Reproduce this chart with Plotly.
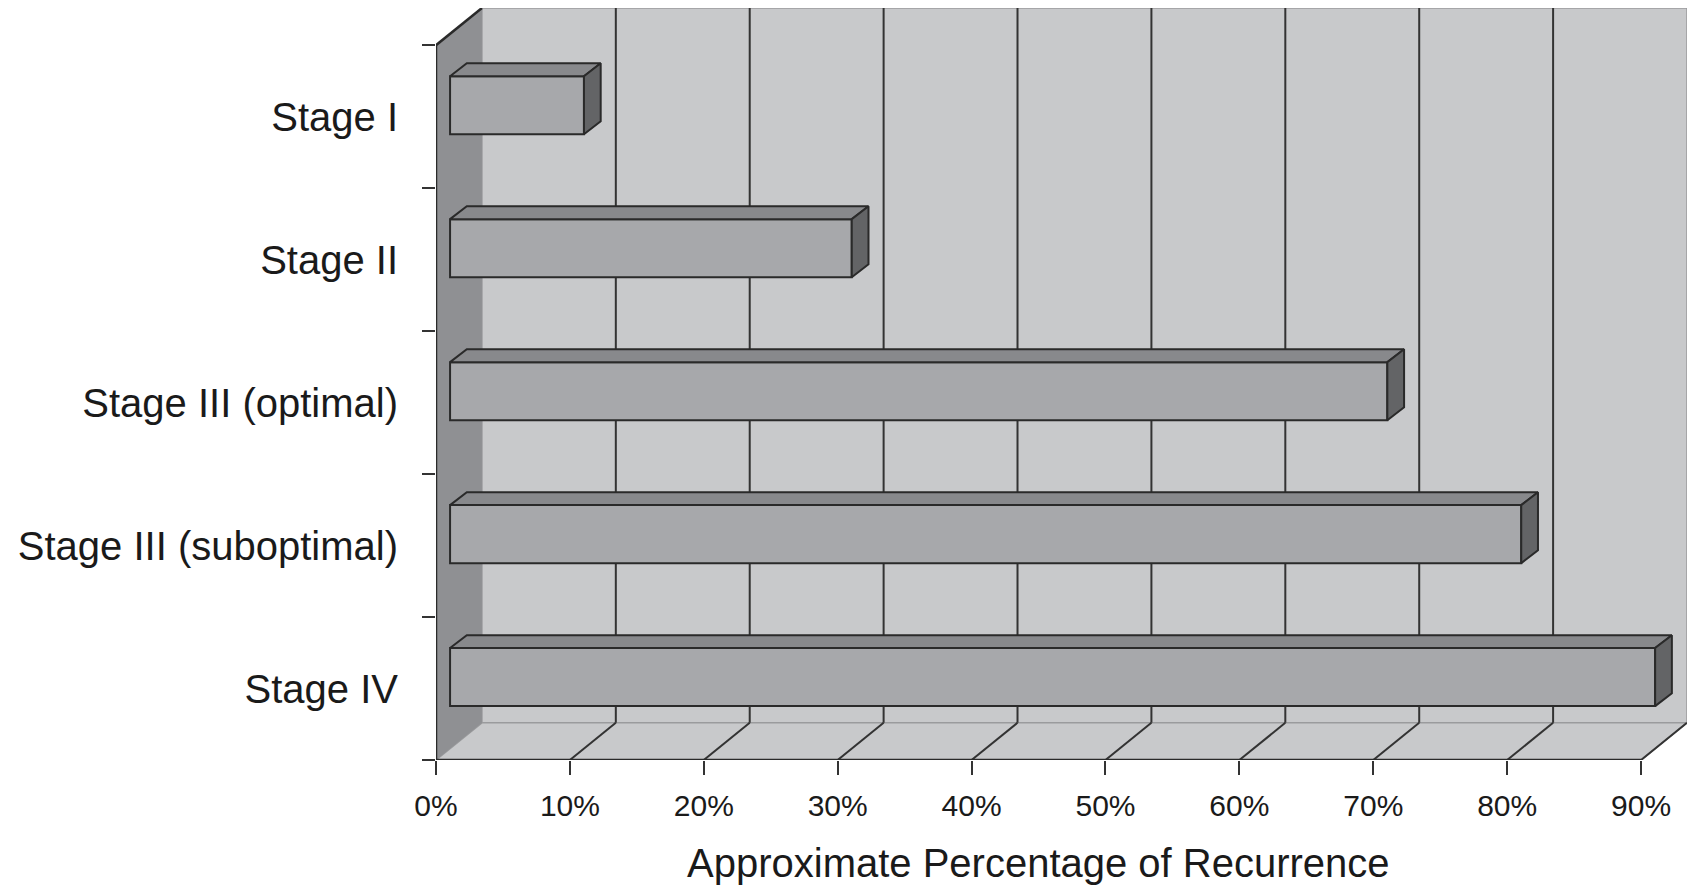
import plotly.graph_objects as go

# ---- data -------------------------------------------------------------
stages = ["Stage I", "Stage II", "Stage III (optimal)",
          "Stage III (suboptimal)", "Stage IV"]
recurrence_pct = [10, 30, 70, 80, 90]
x_tick_values = [0, 10, 20, 30, 40, 50, 60, 70, 80, 90]
x_tick_labels = [f"{v}%" for v in x_tick_values]
x_title = "Approximate Percentage of Recurrence"

# ---- 3-D box geometry (in axis units) ---------------------------------
N = len(stages)
X_MAX = x_tick_values[-1]
DEPTH_X = 3.43      # shift of the back wall along x (%)
DEPTH_Y = 0.26      # shift of the back wall along y (category units)
BAR_X0 = 1.05       # front face of each bar sits this far into the box
BAR_Y0 = 0.08
BAR_DX = 1.25       # bar depth along x
BAR_DY = 0.09       # bar depth along y
BAR_H = 0.406       # bar thickness

WALL = "#c8c9cb"
SIDE_WALL = "#8f9093"
FRONT = "#a7a8ab"
TOP = "#88898c"
SIDE = "#636466"
EDGE = "#2a2a2a"
SOFT_EDGE = "#9a9b9d"
TEXT = "#1a1a1a"
FONT = "Liberation Sans, Arial, sans-serif"

centers = [N - 0.5 - i for i in range(N)]   # Stage I at the top

fig = go.Figure()

# ---- walls, floor and grid (drawn beneath the bars) -------------------
shapes = []


def poly(pts, fill, line_color=None, width=0):
    path = "M " + " L ".join(f"{x},{y}" for x, y in pts) + " Z"
    return dict(type="path", path=path, xref="x", yref="y", layer="below",
                fillcolor=fill,
                line=dict(color=line_color or fill, width=width))


def seg(x0, y0, x1, y1, color, width):
    return dict(type="line", x0=x0, y0=y0, x1=x1, y1=y1, xref="x", yref="y",
                layer="below", line=dict(color=color, width=width))


# back wall
shapes.append(poly([(DEPTH_X, DEPTH_Y), (X_MAX + DEPTH_X, DEPTH_Y),
                    (X_MAX + DEPTH_X, N + DEPTH_Y), (DEPTH_X, N + DEPTH_Y)],
                   WALL, SOFT_EDGE, 1.5))
# floor
shapes.append(poly([(0, 0), (X_MAX, 0), (X_MAX + DEPTH_X, DEPTH_Y),
                    (DEPTH_X, DEPTH_Y)], WALL, SOFT_EDGE, 1.5))
# left wall
shapes.append(poly([(0, 0), (0, N), (DEPTH_X, N + DEPTH_Y),
                    (DEPTH_X, DEPTH_Y)], SIDE_WALL))
# back-wall gridlines
for v in x_tick_values[1:-1]:
    shapes.append(seg(v + DEPTH_X, DEPTH_Y, v + DEPTH_X, N + DEPTH_Y,
                      "#333333", 2))
# floor gridlines
for v in x_tick_values[1:]:
    shapes.append(seg(v, 0, v + DEPTH_X, DEPTH_Y, "#333333", 2))
# left wall outer edges
shapes.append(seg(0, 0, 0, N, EDGE, 2.5))
shapes.append(seg(0, N, DEPTH_X, N + DEPTH_Y, EDGE, 2.5))
# front value axis line
shapes.append(seg(0, 0, X_MAX, 0, EDGE, 2.5))

# ---- bars -------------------------------------------------------------
bar_y = [c + BAR_Y0 for c in centers]
fig.add_trace(go.Bar(
    orientation="h", y=bar_y, x=recurrence_pct, base=BAR_X0, width=BAR_H,
    marker=dict(color=FRONT, line=dict(color=EDGE, width=2)),
    hoverinfo="skip", showlegend=False))

top_x, top_y, side_x, side_y = [], [], [], []
for v, y in zip(recurrence_pct, bar_y):
    x0, x1 = BAR_X0, BAR_X0 + v
    yb, yt = y - BAR_H / 2, y + BAR_H / 2
    top_x += [x0, x1, x1 + BAR_DX, x0 + BAR_DX, x0, None]
    top_y += [yt, yt, yt + BAR_DY, yt + BAR_DY, yt, None]
    side_x += [x1, x1 + BAR_DX, x1 + BAR_DX, x1, x1, None]
    side_y += [yb, yb + BAR_DY, yt + BAR_DY, yt, yb, None]

fig.add_trace(go.Scatter(x=top_x, y=top_y, mode="lines", fill="toself",
                         fillcolor=TOP, line=dict(color=EDGE, width=2),
                         hoverinfo="skip", showlegend=False))
fig.add_trace(go.Scatter(x=side_x, y=side_y, mode="lines", fill="toself",
                         fillcolor=SIDE, line=dict(color=EDGE, width=2),
                         hoverinfo="skip", showlegend=False))

# ---- layout -----------------------------------------------------------
fig.update_layout(
    width=1691, height=885,
    margin=dict(l=436, r=4, t=8, b=125),
    paper_bgcolor="white", plot_bgcolor="white",
    shapes=shapes,
    showlegend=False,
    font=dict(family=FONT, color=TEXT),
    xaxis=dict(range=[0, X_MAX + DEPTH_X], tickmode="array",
               tickvals=x_tick_values, ticktext=x_tick_labels,
               ticks="outside", ticklen=14, tickwidth=2, tickcolor="#333333",
               tickfont=dict(size=30, family=FONT, color=TEXT),
               ticklabelstandoff=5,
               showgrid=False, zeroline=False, showline=False,
               fixedrange=True),
    yaxis=dict(range=[0, N + DEPTH_Y], tickmode="array",
               tickvals=centers, ticktext=stages, ticks="",
               tickfont=dict(size=40, family=FONT, color=TEXT),
               ticklabelstandoff=37,
               minor=dict(tickmode="array", tickvals=list(range(N + 1)),
                          ticks="outside", ticklen=13, tickwidth=2,
                          tickcolor="#333333", showgrid=False),
               showgrid=False, zeroline=False, showline=False,
               fixedrange=True),
    annotations=[dict(text=x_title, x=X_MAX / 2, xref="x", y=-0.137,
                      yref="paper", yanchor="middle", showarrow=False,
                      font=dict(size=40, family=FONT, color=TEXT))],
)

fig.write_html("out.html")
